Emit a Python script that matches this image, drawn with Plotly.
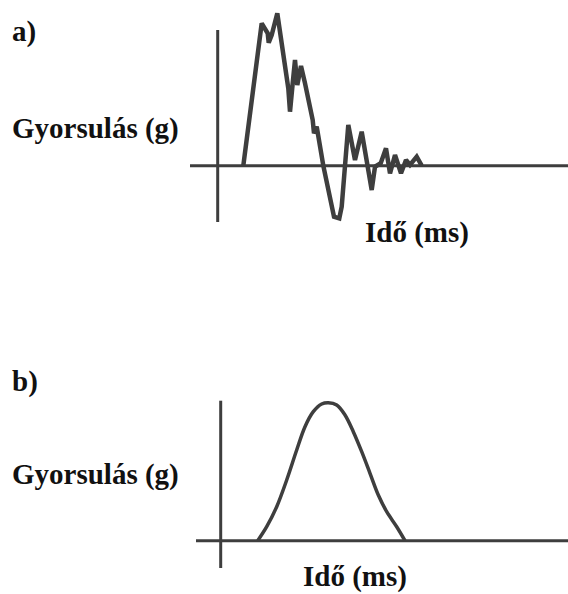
import plotly.graph_objects as go
from plotly.subplots import make_subplots

# a) measured acceleration pulse with ringing (arbitrary time / g units)
t_a = [2.56, 4.40, 5.00, 5.10, 5.40, 5.96, 7.06, 7.23, 7.50, 7.73, 7.96, 8.33,
       8.73, 9.50, 9.63, 9.90, 10.56, 11.23, 11.63, 12.16, 12.40, 13.06, 13.73,
       14.40, 14.90, 15.40, 15.73, 16.30, 16.83, 17.23, 17.73, 18.33, 18.83,
       19.23, 19.90, 20.40]
g_a = [0.00, 14.24, 13.24, 12.30, 13.07, 15.24, 7.74, 5.40, 8.24, 10.57, 8.07,
       9.97, 8.24, 4.57, 3.24, 3.90, 0.00, -3.43, -5.10, -5.26, -4.10, 4.07,
       0.57, 3.40, 0.24, -2.43, -0.10, 0.24, 1.74, -0.76, 1.07, -0.76, 0.57,
       0.07, 0.90, 0.00]

# b) idealised smooth (half-sine like) pulse
t_b = [3.70, 4.60, 5.60, 6.60, 7.60, 8.43, 9.26, 10.10, 10.76, 11.60, 12.43,
       13.26, 14.10, 14.93, 15.76, 16.60, 17.60, 18.43]
g_b = [0.00, 1.40, 3.40, 6.07, 9.07, 11.40, 12.90, 13.67, 13.80, 13.57, 12.57,
       10.90, 8.90, 6.74, 4.57, 2.90, 1.40, 0.00]

# axis extents (t_min, t_max, g_min, g_max) for the hand-drawn axes
axes_a = (-2.77, 36.0, -5.63, 13.57)
axes_b = (-2.47, 36.0, -2.73, 14.0)

y_label = "Gyorsulás (g)"
x_label = "Idő (ms)"
panel_labels = ["a)", "b)"]

W, H = 568, 594
INK = "#3e3e3e"
FONT = dict(family="Liberation Serif", size=29, color="#111111")

fig = make_subplots(rows=2, cols=1, vertical_spacing=0.0)

fig.add_trace(go.Scatter(x=t_a, y=g_a, mode="lines",
                         line=dict(color=INK, width=4.5, shape="linear"),
                         hoverinfo="skip", showlegend=False), row=1, col=1)
fig.add_trace(go.Scatter(x=t_b, y=g_b, mode="lines",
                         line=dict(color=INK, width=3.5, shape="spline", smoothing=1.0),
                         hoverinfo="skip", showlegend=False), row=2, col=1)

# axis lines through the origin
for (x0, x1, y0, y1), xr, yr in [(axes_a, "x", "y"), (axes_b, "x2", "y2")]:
    fig.add_shape(type="line", xref=xr, yref=yr, x0=0, x1=0, y0=y0, y1=y1,
                  line=dict(color=INK, width=3))
    fig.add_shape(type="line", xref=xr, yref=yr, x0=x0, x1=x1, y0=0, y1=0,
                  line=dict(color=INK, width=3))

hidden = dict(visible=False, showgrid=False, zeroline=False, fixedrange=True)
fig.update_xaxes(**hidden)
fig.update_yaxes(**hidden)
fig.update_layout(
    xaxis=dict(domain=[0, 1], range=[-21.77, 35.03]),
    yaxis=dict(domain=[0.5, 1], range=[-13.13, 16.57]),
    xaxis2=dict(domain=[0, 1], range=[-22.07, 34.73]),
    yaxis2=dict(domain=[0, 0.5], range=[-5.33, 24.37]),
)


def label(text, px, py, anchor="middle"):
    fig.add_annotation(text=f"<b>{text}</b>", xref="paper", yref="paper",
                       x=px / W, y=1 - py / H, xanchor="left", yanchor=anchor,
                       showarrow=False, font=FONT, borderpad=0)


label(panel_labels[0], 11, 31)
label(y_label, 11, 128)
label(x_label, 364, 232)
label(panel_labels[1], 11, 381)
label(y_label, 11, 474)
label(x_label, 302, 594, anchor="bottom")

fig.update_layout(width=W, height=H, margin=dict(l=0, r=0, t=0, b=0),
                  paper_bgcolor="white", plot_bgcolor="white")

fig.write_html("out.html")
